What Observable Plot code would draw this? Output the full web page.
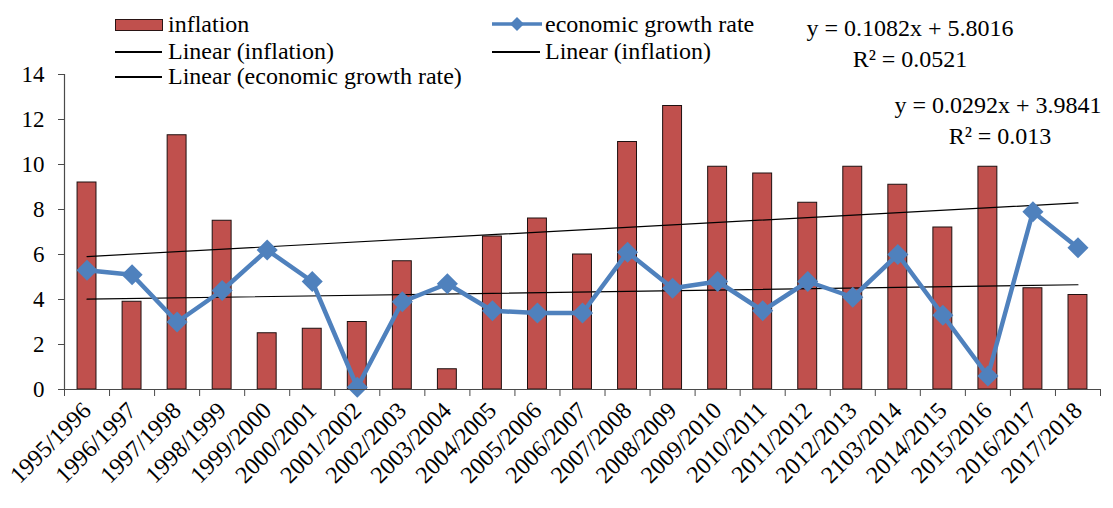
<!DOCTYPE html>
<html><head><meta charset="utf-8">
<script src="https://cdn.jsdelivr.net/npm/d3@7"></script>
<script src="https://cdn.jsdelivr.net/npm/@observablehq/plot@0.6"></script>
<style>
body{margin:0;background:#fff;}
#wrap{position:relative;width:1113px;height:508px;font-family:"Liberation Serif","Liberation Sans",Arial,sans-serif;color:#000;overflow:hidden;}
#wrap > svg{position:absolute;left:0;top:0;}
.lg{position:absolute;font-size:24px;line-height:26px;white-space:nowrap;}
.eq{position:absolute;font-size:24px;line-height:26px;white-space:nowrap;transform:translateX(-50%);}
.sw{position:absolute;}
</style></head><body><div id="wrap"></div>
<script>
// ---- data ----
const periods = ["1995/1996","1996/1997","1997/1998","1998/1999","1999/2000","2000/2001","2001/2002","2002/2003","2003/2004","2004/2005","2005/2006","2006/2007","2007/2008","2008/2009","2009/2010","2010/2011","2011/2012","2012/2013","2103/2014","2014/2015","2015/2016","2016/2017","2017/2018"];
const inflation = [9.2,3.9,11.3,7.5,2.5,2.7,3.0,5.7,0.9,6.8,7.6,6.0,11.0,12.6,9.9,9.6,8.3,9.9,9.1,7.2,9.9,4.5,4.2];
const growth = [5.3,5.1,3.0,4.4,6.2,4.8,0.1,3.9,4.7,3.5,3.4,3.4,6.1,4.5,4.8,3.5,4.8,4.1,6.0,3.3,0.6,7.9,6.3];
const trendNames = ["Linear (inflation)","Linear (economic growth rate)"];
const trendSlopes = [0.1082,0.0292];
const trendIntercepts = [5.8016,3.9841];
const trendR2 = ["0.0521","0.013"];
const yTicks = [0,2,4,6,8,10,12,14];

const data = periods.map((p,k)=>({i:k+1, period:p, inflation:inflation[k], growth:growth[k]}));
const n = periods.length;
const trendPts = [];
trendNames.forEach((name,k)=>{
  [1,n].forEach(x=>trendPts.push({series:name, x, y: trendSlopes[k]*x + trendIntercepts[k]}));
});

const RED = "#C0504D", BLUE = "#4F81BD", AXIS = "#4a4a4a";
const FONT = '"Liberation Serif","Liberation Sans",Arial,sans-serif';

const chart = Plot.plot({
  width: 1113, height: 508,
  marginTop: 74, marginBottom: 119, marginLeft: 64, marginRight: 13,
  x: {type:"linear", domain:[0.5, n+0.5]},
  y: {domain:[0,14]},
  style: {fontFamily: FONT, fontSize:"22px", color:"#000", background:"transparent", overflow:"visible"},
  marks: [
    Plot.rect(data, {x1: d=>d.i-0.21, x2: d=>d.i+0.21, y1: 0, y2: "inflation", fill: RED, stroke: "#1f1010", strokeWidth: 1}),
    Plot.line(trendPts, {x:"x", y:"y", z:"series", stroke:"#000", strokeWidth:1.2}),
    Plot.line(data, {x:"i", y:"growth", stroke: BLUE, strokeWidth: 4.5, strokeLinejoin:"miter"}),
    Plot.dot(data, {x:"i", y:"growth", symbol:"diamond2", r:9.5, fill: BLUE, stroke:"none"}),
    Plot.ruleX([0.5], {stroke: AXIS, strokeWidth: 1.2}),
    Plot.ruleY([0], {stroke: AXIS, strokeWidth: 1.2}),
    Plot.axisY({ticks: yTicks, tickSize: 6, tickPadding: 14, stroke: AXIS, fontSize: 23}),
    Plot.axisX({ticks: d3.range(0.5, n+1, 1), tickSize: 7, tickFormat: () => "", stroke: AXIS}),
    Plot.axisX({ticks: d3.range(1, n+1), tickSize: 0, tickPadding: 17, tickRotate: -45, tickFormat: i => periods[i-1], fontSize: 24})
  ]
});
const wrap = document.getElementById("wrap");
wrap.appendChild(chart);

// ---- legend (HTML overlay) ----
function add(html){ wrap.insertAdjacentHTML("beforeend", html); }
// column 1
add(`<div class="sw" style="left:115px;top:19px;width:46px;height:10px;background:${RED};border:1px solid #2a1414;"></div>`);
add(`<div class="lg" style="left:168px;top:11px;">inflation</div>`);
add(`<div class="sw" style="left:115px;top:51px;width:47px;height:1.5px;background:#000;"></div>`);
add(`<div class="lg" style="left:168px;top:38px;">${trendNames[0]}</div>`);
add(`<div class="sw" style="left:115px;top:76px;width:47px;height:1.5px;background:#000;"></div>`);
add(`<div class="lg" style="left:168px;top:63px;">${trendNames[1]}</div>`);
// column 2
add(`<svg class="sw" style="left:490px;top:14px;" width="56" height="20"><line x1="2" y1="10" x2="52" y2="10" stroke="${BLUE}" stroke-width="3.5"/><path d="M27,3 L34,10 L27,17 L20,10 Z" fill="${BLUE}"/></svg>`);
add(`<div class="lg" style="left:545px;top:11px;">economic growth rate</div>`);
add(`<div class="sw" style="left:492px;top:51px;width:48px;height:1.5px;background:#000;"></div>`);
add(`<div class="lg" style="left:545px;top:38px;">${trendNames[0]}</div>`);
// equations
const fmt = (s,b)=>`y = ${s}x + ${b}`;
add(`<div class="eq" style="left:910px;top:15px;">${fmt(trendSlopes[0].toFixed(4), trendIntercepts[0].toFixed(4))}</div>`);
add(`<div class="eq" style="left:910px;top:46px;">R² = ${trendR2[0]}</div>`);
add(`<div class="eq" style="left:998px;top:92px;">${fmt(trendSlopes[1].toFixed(4), trendIntercepts[1].toFixed(4))}</div>`);
add(`<div class="eq" style="left:1000px;top:123px;">R² = ${trendR2[1]}</div>`);
</script>
</body></html>
